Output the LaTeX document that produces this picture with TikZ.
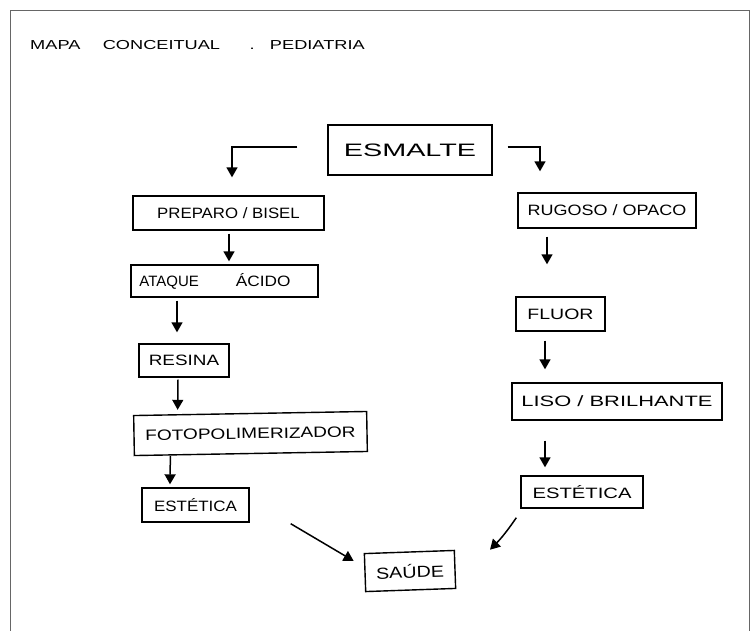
\documentclass[tikz,border=0pt]{standalone}
\usepackage{fontspec}
\setmainfont{Liberation Sans}
\usetikzlibrary{arrows.meta}
% wide, hand-lettered look: stretch a label horizontally
\newcommand{\handtext}[2]{\scalebox{#1}[1]{#2}}
\begin{document}
\begin{tikzpicture}[x=1pt,y=-1pt,
  box/.style={draw, line width=1.4pt, inner sep=0pt, align=center, font=\fontsize{15}{17}\selectfont},
  arr/.style={line width=1.5pt, -{Triangle[width=11pt,length=10pt]}},
  frameline/.style={draw=black!60, line width=0.9pt}]
\useasboundingbox (0,0) rectangle (754,630);
% page frame, open at the bottom
\draw[frameline] (10,640) -- (10,10) -- (749,10) -- (749,640);
% title
\node[anchor=west, inner sep=0pt, font=\fontsize{13}{15}\selectfont] (title) at (30,45)
  {\handtext{1.4}{MAPA\hspace{16pt}CONCEITUAL\hspace{21pt}.\hspace{11pt}PEDIATRIA}};
% boxes
\node[box, minimum width=164pt, minimum height=50pt, font=\fontsize{18}{20}\selectfont] (esmalte) at (410,150) {\handtext{1.6}{ESMALTE}};
\node[box, minimum width=191pt, minimum height=34pt] (prep) at (228.5,213) {\handtext{1.12}{PREPARO / BISEL}};
\node[box, minimum width=187pt, minimum height=32pt] (ataque) at (224.5,281) {ATAQUE\hspace{37pt}\handtext{1.15}{ÁCIDO}\hspace{19pt}};
\node[box, minimum width=90pt, minimum height=33pt] (resina) at (184,360.5) {\handtext{1.26}{RESINA}};
\node[box, minimum width=233pt, minimum height=40pt, rotate=1] (foto) at (250.5,433.5) {\handtext{1.27}{FOTOPOLIMERIZADOR}};
\node[box, minimum width=107pt, minimum height=34pt] (estL) at (195.5,505) {\handtext{1.13}{ESTÉTICA}};
\node[box, minimum width=90pt, minimum height=38pt, rotate=2, font=\fontsize{16}{18}\selectfont] (saude) at (410,571) {\handtext{1.23}{SAÚDE}};
\node[box, minimum width=178pt, minimum height=35pt] (rugoso) at (607,210.5) {\handtext{1.2}{RUGOSO / OPACO}};
\node[box, minimum width=89pt, minimum height=34pt] (fluor) at (560.5,314) {\handtext{1.3}{FLUOR}};
\node[box, minimum width=210pt, minimum height=37pt] (liso) at (617,401.5) {\handtext{1.46}{LISO / BRILHANTE}};
\node[box, minimum width=122pt, minimum height=32pt] (estR) at (582,492) {\handtext{1.35}{ESTÉTICA}};
% left branch
\draw[arr] ([xshift=-30pt,yshift=3pt]esmalte.west) -| ([xshift=3.5pt,yshift=18pt]prep.north);
\draw[arr] ([xshift=0.5pt,yshift=-3pt]prep.south) -- ([xshift=4.5pt,yshift=3pt]ataque.north);
\draw[arr] ([xshift=-47.5pt,yshift=-3pt]ataque.south) -- ([xshift=-7pt,yshift=11pt]resina.north);
\draw[arr] ([xshift=-6pt,yshift=-2pt]resina.south) -- ([xshift=-72.5pt,yshift=3pt]foto.north);
\draw[arr] ([xshift=-80.5pt,yshift=-2pt]foto.south) -- ([xshift=-25.5pt,yshift=3pt]estL.north);
\draw[arr] ([xshift=41pt,yshift=-1pt]estL.south east) -- ([xshift=-10pt,yshift=-8pt]saude.north west);
% right branch
\draw[arr] ([xshift=15pt,yshift=3pt]esmalte.east) -| ([xshift=-67pt,yshift=21pt]rugoso.north);
\draw[arr] ([xshift=-60pt,yshift=-8pt]rugoso.south) -- ([xshift=-13.5pt,yshift=32pt]fluor.north);
\draw[arr] ([xshift=-15.5pt,yshift=-9pt]fluor.south) -- ([xshift=-72pt,yshift=13pt]liso.north);
\draw[arr] ([xshift=-72pt,yshift=-20pt]liso.south) -- ([xshift=-37pt,yshift=8pt]estR.north);
\draw[arr] ([xshift=-4pt,yshift=-9pt]estR.south west) to[bend left=5] ([xshift=35pt,yshift=0pt]saude.north east);
\end{tikzpicture}
\end{document}
